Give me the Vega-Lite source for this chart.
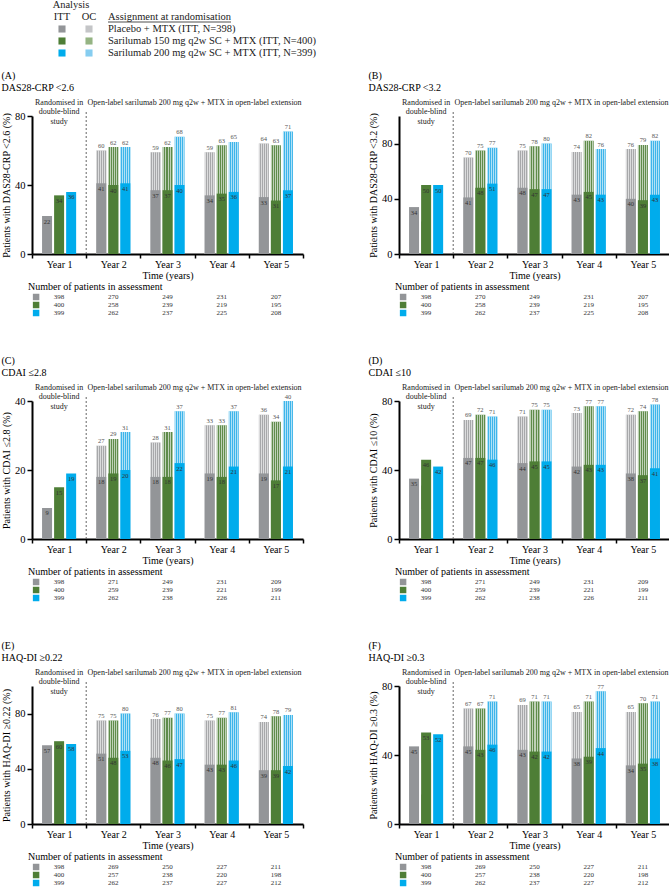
{
  "$schema": "https://vega.github.io/schema/vega-lite/v6.json",
  "background": "white",
  "padding": {"left": 1, "top": 0, "right": 0, "bottom": 0},
  "columns": 2,
  "bounds": "flush",
  "align": "each",
  "spacing": {"row": 39, "column": 96},
  "datasets": {
    "bars": [
      {"p":"A","year":"Year 1","grp":"PBO","itt":22},{"p":"A","year":"Year 1","grp":"S150","itt":34},{"p":"A","year":"Year 1","grp":"S200","itt":36},
      {"p":"A","year":"Year 2","grp":"PBO","itt":41,"oc":60},{"p":"A","year":"Year 2","grp":"S150","itt":40,"oc":62},{"p":"A","year":"Year 2","grp":"S200","itt":41,"oc":62},
      {"p":"A","year":"Year 3","grp":"PBO","itt":37,"oc":59},{"p":"A","year":"Year 3","grp":"S150","itt":37,"oc":62},{"p":"A","year":"Year 3","grp":"S200","itt":40,"oc":68},
      {"p":"A","year":"Year 4","grp":"PBO","itt":34,"oc":59},{"p":"A","year":"Year 4","grp":"S150","itt":35,"oc":63},{"p":"A","year":"Year 4","grp":"S200","itt":36,"oc":65},
      {"p":"A","year":"Year 5","grp":"PBO","itt":33,"oc":64},{"p":"A","year":"Year 5","grp":"S150","itt":31,"oc":63},{"p":"A","year":"Year 5","grp":"S200","itt":37,"oc":71},
      {"p":"B","year":"Year 1","grp":"PBO","itt":34},{"p":"B","year":"Year 1","grp":"S150","itt":50},{"p":"B","year":"Year 1","grp":"S200","itt":50},
      {"p":"B","year":"Year 2","grp":"PBO","itt":41,"oc":70},{"p":"B","year":"Year 2","grp":"S150","itt":48,"oc":75},{"p":"B","year":"Year 2","grp":"S200","itt":51,"oc":77},
      {"p":"B","year":"Year 3","grp":"PBO","itt":48,"oc":75},{"p":"B","year":"Year 3","grp":"S150","itt":47,"oc":78},{"p":"B","year":"Year 3","grp":"S200","itt":47,"oc":80},
      {"p":"B","year":"Year 4","grp":"PBO","itt":43,"oc":74},{"p":"B","year":"Year 4","grp":"S150","itt":45,"oc":82},{"p":"B","year":"Year 4","grp":"S200","itt":43,"oc":76},
      {"p":"B","year":"Year 5","grp":"PBO","itt":40,"oc":76},{"p":"B","year":"Year 5","grp":"S150","itt":39,"oc":79},{"p":"B","year":"Year 5","grp":"S200","itt":43,"oc":82},
      {"p":"C","year":"Year 1","grp":"PBO","itt":9},{"p":"C","year":"Year 1","grp":"S150","itt":15},{"p":"C","year":"Year 1","grp":"S200","itt":19},
      {"p":"C","year":"Year 2","grp":"PBO","itt":18,"oc":27},{"p":"C","year":"Year 2","grp":"S150","itt":19,"oc":29},{"p":"C","year":"Year 2","grp":"S200","itt":20,"oc":31},
      {"p":"C","year":"Year 3","grp":"PBO","itt":18,"oc":28},{"p":"C","year":"Year 3","grp":"S150","itt":18,"oc":31},{"p":"C","year":"Year 3","grp":"S200","itt":22,"oc":37},
      {"p":"C","year":"Year 4","grp":"PBO","itt":19,"oc":33},{"p":"C","year":"Year 4","grp":"S150","itt":18,"oc":33},{"p":"C","year":"Year 4","grp":"S200","itt":21,"oc":37},
      {"p":"C","year":"Year 5","grp":"PBO","itt":19,"oc":36},{"p":"C","year":"Year 5","grp":"S150","itt":17,"oc":34},{"p":"C","year":"Year 5","grp":"S200","itt":21,"oc":40},
      {"p":"D","year":"Year 1","grp":"PBO","itt":35},{"p":"D","year":"Year 1","grp":"S150","itt":46},{"p":"D","year":"Year 1","grp":"S200","itt":42},
      {"p":"D","year":"Year 2","grp":"PBO","itt":47,"oc":69},{"p":"D","year":"Year 2","grp":"S150","itt":47,"oc":72},{"p":"D","year":"Year 2","grp":"S200","itt":46,"oc":71},
      {"p":"D","year":"Year 3","grp":"PBO","itt":44,"oc":71},{"p":"D","year":"Year 3","grp":"S150","itt":45,"oc":75},{"p":"D","year":"Year 3","grp":"S200","itt":45,"oc":75},
      {"p":"D","year":"Year 4","grp":"PBO","itt":42,"oc":73},{"p":"D","year":"Year 4","grp":"S150","itt":43,"oc":77},{"p":"D","year":"Year 4","grp":"S200","itt":43,"oc":77},
      {"p":"D","year":"Year 5","grp":"PBO","itt":38,"oc":72},{"p":"D","year":"Year 5","grp":"S150","itt":37,"oc":74},{"p":"D","year":"Year 5","grp":"S200","itt":41,"oc":78},
      {"p":"E","year":"Year 1","grp":"PBO","itt":57},{"p":"E","year":"Year 1","grp":"S150","itt":60},{"p":"E","year":"Year 1","grp":"S200","itt":58},
      {"p":"E","year":"Year 2","grp":"PBO","itt":51,"oc":75},{"p":"E","year":"Year 2","grp":"S150","itt":48,"oc":75},{"p":"E","year":"Year 2","grp":"S200","itt":53,"oc":80},
      {"p":"E","year":"Year 3","grp":"PBO","itt":48,"oc":76},{"p":"E","year":"Year 3","grp":"S150","itt":46,"oc":77},{"p":"E","year":"Year 3","grp":"S200","itt":47,"oc":80},
      {"p":"E","year":"Year 4","grp":"PBO","itt":43,"oc":75},{"p":"E","year":"Year 4","grp":"S150","itt":43,"oc":77},{"p":"E","year":"Year 4","grp":"S200","itt":46,"oc":81},
      {"p":"E","year":"Year 5","grp":"PBO","itt":39,"oc":74},{"p":"E","year":"Year 5","grp":"S150","itt":39,"oc":78},{"p":"E","year":"Year 5","grp":"S200","itt":42,"oc":79},
      {"p":"F","year":"Year 1","grp":"PBO","itt":45},{"p":"F","year":"Year 1","grp":"S150","itt":53},{"p":"F","year":"Year 1","grp":"S200","itt":52},
      {"p":"F","year":"Year 2","grp":"PBO","itt":45,"oc":67},{"p":"F","year":"Year 2","grp":"S150","itt":43,"oc":67},{"p":"F","year":"Year 2","grp":"S200","itt":46,"oc":71},
      {"p":"F","year":"Year 3","grp":"PBO","itt":43,"oc":69},{"p":"F","year":"Year 3","grp":"S150","itt":42,"oc":71},{"p":"F","year":"Year 3","grp":"S200","itt":42,"oc":71},
      {"p":"F","year":"Year 4","grp":"PBO","itt":38,"oc":65},{"p":"F","year":"Year 4","grp":"S150","itt":39,"oc":71},{"p":"F","year":"Year 4","grp":"S200","itt":44,"oc":77},
      {"p":"F","year":"Year 5","grp":"PBO","itt":34,"oc":65},{"p":"F","year":"Year 5","grp":"S150","itt":35,"oc":70},{"p":"F","year":"Year 5","grp":"S200","itt":38,"oc":71}
    ],
    "n": [
      {"t":"AB","year":"Year 1","grp":"PBO","n":398},{"t":"AB","year":"Year 2","grp":"PBO","n":270},{"t":"AB","year":"Year 3","grp":"PBO","n":249},{"t":"AB","year":"Year 4","grp":"PBO","n":231},{"t":"AB","year":"Year 5","grp":"PBO","n":207},
      {"t":"AB","year":"Year 1","grp":"S150","n":400},{"t":"AB","year":"Year 2","grp":"S150","n":258},{"t":"AB","year":"Year 3","grp":"S150","n":239},{"t":"AB","year":"Year 4","grp":"S150","n":219},{"t":"AB","year":"Year 5","grp":"S150","n":195},
      {"t":"AB","year":"Year 1","grp":"S200","n":399},{"t":"AB","year":"Year 2","grp":"S200","n":262},{"t":"AB","year":"Year 3","grp":"S200","n":237},{"t":"AB","year":"Year 4","grp":"S200","n":225},{"t":"AB","year":"Year 5","grp":"S200","n":208},
      {"t":"CD","year":"Year 1","grp":"PBO","n":398},{"t":"CD","year":"Year 2","grp":"PBO","n":271},{"t":"CD","year":"Year 3","grp":"PBO","n":249},{"t":"CD","year":"Year 4","grp":"PBO","n":231},{"t":"CD","year":"Year 5","grp":"PBO","n":209},
      {"t":"CD","year":"Year 1","grp":"S150","n":400},{"t":"CD","year":"Year 2","grp":"S150","n":259},{"t":"CD","year":"Year 3","grp":"S150","n":239},{"t":"CD","year":"Year 4","grp":"S150","n":221},{"t":"CD","year":"Year 5","grp":"S150","n":199},
      {"t":"CD","year":"Year 1","grp":"S200","n":399},{"t":"CD","year":"Year 2","grp":"S200","n":262},{"t":"CD","year":"Year 3","grp":"S200","n":238},{"t":"CD","year":"Year 4","grp":"S200","n":226},{"t":"CD","year":"Year 5","grp":"S200","n":211},
      {"t":"EF","year":"Year 1","grp":"PBO","n":398},{"t":"EF","year":"Year 2","grp":"PBO","n":269},{"t":"EF","year":"Year 3","grp":"PBO","n":250},{"t":"EF","year":"Year 4","grp":"PBO","n":227},{"t":"EF","year":"Year 5","grp":"PBO","n":211},
      {"t":"EF","year":"Year 1","grp":"S150","n":400},{"t":"EF","year":"Year 2","grp":"S150","n":257},{"t":"EF","year":"Year 3","grp":"S150","n":238},{"t":"EF","year":"Year 4","grp":"S150","n":220},{"t":"EF","year":"Year 5","grp":"S150","n":198},
      {"t":"EF","year":"Year 1","grp":"S200","n":399},{"t":"EF","year":"Year 2","grp":"S200","n":262},{"t":"EF","year":"Year 3","grp":"S200","n":237},{"t":"EF","year":"Year 4","grp":"S200","n":227},{"t":"EF","year":"Year 5","grp":"S200","n":212}
    ],
    "legsq": [
      {"row":"PBO","col":"ITT","key":"PBO ITT"},{"row":"PBO","col":"OC","key":"PBO OC"},
      {"row":"S150","col":"ITT","key":"S150 ITT"},{"row":"S150","col":"OC","key":"S150 OC"},
      {"row":"S200","col":"ITT","key":"S200 ITT"},{"row":"S200","col":"OC","key":"S200 OC"}
    ],
    "leglab": [
      {"row":"PBO","label":"Placebo + MTX (ITT, N=398)"},
      {"row":"S150","label":"Sarilumab 150 mg q2w SC + MTX (ITT, N=400)"},
      {"row":"S200","label":"Sarilumab 200 mg q2w SC + MTX (ITT, N=399)"}
    ]
  },
  "concat": [
    {
      "width": 271, "height": 72,
      "layer": [
        {"data": {"name": "legsq"}, "mark": {"type": "square", "size": 50, "opacity": 1},
         "encoding": {
           "x": {"field": "col", "type": "nominal", "scale": {"type": "point", "domain": ["ITT","OC","label"], "range": [30, 84], "padding": 0}, "axis": null},
           "y": {"field": "row", "type": "nominal", "scale": {"type": "point", "domain": ["Analysis","header","PBO","S150","S200"], "range": [0, 48], "padding": 0}, "axis": null},
           "color": {"field": "key", "type": "nominal", "scale": {"domain": ["PBO ITT","S150 ITT","S200 ITT","PBO OC","S150 OC","S200 OC"], "range": ["#939598","#4e7e36","#00acec","#c4c5c7","#95b483","#86cdf0"]}, "legend": null}}},
        {"data": {"name": "leglab"}, "mark": {"type": "text", "align": "left", "dx": -8, "fontSize": 10.5, "color": "#222"},
         "encoding": {"x": {"datum": "label", "type": "nominal"}, "y": {"field": "row", "type": "nominal"}, "text": {"field": "label"}}},
        {"data": {"values": [{}]}, "mark": {"type": "text", "text": "ITT", "fontSize": 10.5, "color": "#222"},
         "encoding": {"x": {"datum": "ITT", "type": "nominal"}, "y": {"datum": "header", "type": "nominal"}}},
        {"data": {"values": [{}]}, "mark": {"type": "text", "text": "OC", "fontSize": 10.5, "color": "#222"},
         "encoding": {"x": {"datum": "OC", "type": "nominal"}, "y": {"datum": "header", "type": "nominal"}}},
        {"data": {"values": [{}]}, "mark": {"type": "text", "text": "Analysis", "fontSize": 10.5, "dx": 9, "color": "#222"},
         "encoding": {"x": {"datum": "ITT", "type": "nominal"}, "y": {"datum": "Analysis", "type": "nominal"}}},
        {"data": {"values": [{}]}, "mark": {"type": "text", "text": "Assignment at randomisation", "align": "left", "dx": -8, "fontSize": 10.5, "color": "#222"},
         "encoding": {"x": {"datum": "label", "type": "nominal"}, "y": {"datum": "header", "type": "nominal"}}},
        {"data": {"values": [{}]}, "mark": {"type": "rule", "color": "#222", "strokeWidth": 0.8, "xOffset": -8, "x2Offset": 115, "yOffset": 5},
         "encoding": {"x": {"datum": "label", "type": "nominal"}, "x2": {"datum": "label"}, "y": {"datum": "header", "type": "nominal"}}}
      ]
    },
    {"width": 271, "height": 72, "data": {"values": []}, "mark": "point"},

    {
      "width": 271, "height": 138,
      "title": {"text": ["(A)", "DAS28-CRP <2.6"]},
      "layer": [
        {
          "data": {"name": "bars"},
          "transform": [{"filter": "datum.p == 'A'"}],
          "encoding": {
            "x": {"field": "year", "type": "nominal", "scale": {"domain": ["Year 1","Year 2","Year 3","Year 4","Year 5"], "paddingInner": 0, "paddingOuter": 0}, "title": "Time (years)"},
            "xOffset": {"field": "grp", "type": "nominal", "scale": {"domain": ["PBO","S150","S200"], "paddingInner": 0.17, "paddingOuter": 0.835}}
          },
          "layer": [
            {"transform": [{"filter": "isValid(datum.oc)"}], "mark": {"type": "bar"},
             "encoding": {"y": {"field": "oc", "type": "quantitative", "scale": {"domain": [0, 80]}, "axis": {"values": [0,10,20,30,40,50,60,70,80]}, "title": "Patients with DAS28-CRP <2.6 (%)"},
               "color": {"field": "grp", "type": "nominal", "scale": {"domain": ["PBO","S150","S200"], "range": ["#a7a8aa","#5f8c4a","#3db5ea"]}, "legend": null}}},
            {"transform": [{"filter": "isValid(datum.oc)"}], "mark": {"type": "bar", "fill": {"gradient": "linear", "x1": 0, "y1": 0, "x2": 1, "y2": 0, "stops": [{"offset": 0, "color": "rgba(255,255,255,0.6)"}, {"offset": 0.1, "color": "rgba(255,255,255,0.6)"}, {"offset": 0.1, "color": "rgba(255,255,255,0)"}, {"offset": 0.2, "color": "rgba(255,255,255,0)"}, {"offset": 0.2, "color": "rgba(255,255,255,0.6)"}, {"offset": 0.3, "color": "rgba(255,255,255,0.6)"}, {"offset": 0.3, "color": "rgba(255,255,255,0)"}, {"offset": 0.4, "color": "rgba(255,255,255,0)"}, {"offset": 0.4, "color": "rgba(255,255,255,0.6)"}, {"offset": 0.5, "color": "rgba(255,255,255,0.6)"}, {"offset": 0.5, "color": "rgba(255,255,255,0)"}, {"offset": 0.6, "color": "rgba(255,255,255,0)"}, {"offset": 0.6, "color": "rgba(255,255,255,0.6)"}, {"offset": 0.7, "color": "rgba(255,255,255,0.6)"}, {"offset": 0.7, "color": "rgba(255,255,255,0)"}, {"offset": 0.8, "color": "rgba(255,255,255,0)"}, {"offset": 0.8, "color": "rgba(255,255,255,0.6)"}, {"offset": 0.9, "color": "rgba(255,255,255,0.6)"}, {"offset": 0.9, "color": "rgba(255,255,255,0)"}, {"offset": 1, "color": "rgba(255,255,255,0)"}]}},
             "encoding": {"y": {"field": "oc", "type": "quantitative", "scale": {"domain": [0, 80]}, "axis": {"values": [0,10,20,30,40,50,60,70,80]}, "title": "Patients with DAS28-CRP <2.6 (%)"}}},
            {"mark": {"type": "bar"},
             "encoding": {"y": {"field": "itt", "type": "quantitative", "scale": {"domain": [0, 80]}, "axis": {"values": [0,10,20,30,40,50,60,70,80]}, "title": "Patients with DAS28-CRP <2.6 (%)"},
               "color": {"field": "grp", "type": "nominal", "scale": {"domain": ["PBO","S150","S200"], "range": ["#939598","#4e7e36","#00acec"]}, "legend": null}}},
            {"transform": [{"filter": "isValid(datum.oc)"}], "mark": {"type": "text", "dy": -4.5, "fontSize": 6.5, "color": "#555"},
             "encoding": {"y": {"field": "oc", "type": "quantitative", "scale": {"domain": [0, 80]}, "axis": {"values": [0,10,20,30,40,50,60,70,80]}, "title": "Patients with DAS28-CRP <2.6 (%)"}, "text": {"field": "oc"}}},
            {"mark": {"type": "text", "dy": 5.5, "fontSize": 6.5, "color": "#333"},
             "encoding": {"y": {"field": "itt", "type": "quantitative", "scale": {"domain": [0, 80]}, "axis": {"values": [0,10,20,30,40,50,60,70,80]}, "title": "Patients with DAS28-CRP <2.6 (%)"}, "text": {"field": "itt"}}}
          ],
          "resolve": {"scale": {"color": "independent"}}
        },
        {"data": {"values": [{}]}, "mark": {"type": "rule", "strokeDash": [2, 2], "color": "#666", "strokeWidth": 1},
         "encoding": {"x": {"datum": "Year 2", "type": "nominal", "bandPosition": 0}, "y": {"datum": 0, "type": "quantitative"}, "y2": {"datum": 82.4}}},
        {"data": {"values": [{}]}, "mark": {"type": "text", "text": ["Randomised in", "double-blind", "study"], "baseline": "top", "dy": -17.5, "lineHeight": 9.7, "fontSize": 8, "color": "#222"},
         "encoding": {"x": {"datum": "Year 1", "type": "nominal"}, "y": {"datum": 80, "type": "quantitative"}}},
        {"data": {"values": [{}]}, "mark": {"type": "text", "text": "Open-label sarilumab 200 mg q2w + MTX in open-label extension", "baseline": "top", "dy": -17.5, "fontSize": 8, "color": "#222"},
         "encoding": {"x": {"datum": "Year 4", "type": "nominal", "bandPosition": 0}, "y": {"datum": 80, "type": "quantitative"}}}
      ]
    },
    {
      "width": 271, "height": 138,
      "title": {"text": ["(B)", "DAS28-CRP <3.2"]},
      "layer": [
        {
          "data": {"name": "bars"},
          "transform": [{"filter": "datum.p == 'B'"}],
          "encoding": {
            "x": {"field": "year", "type": "nominal", "scale": {"domain": ["Year 1","Year 2","Year 3","Year 4","Year 5"], "paddingInner": 0, "paddingOuter": 0}, "title": "Time (years)"},
            "xOffset": {"field": "grp", "type": "nominal", "scale": {"domain": ["PBO","S150","S200"], "paddingInner": 0.17, "paddingOuter": 0.835}}
          },
          "layer": [
            {"transform": [{"filter": "isValid(datum.oc)"}], "mark": {"type": "bar"},
             "encoding": {"y": {"field": "oc", "type": "quantitative", "scale": {"domain": [0, 100]}, "axis": {"values": [0,20,40,60,80,100]}, "title": "Patients with DAS28-CRP <3.2 (%)"},
               "color": {"field": "grp", "type": "nominal", "scale": {"domain": ["PBO","S150","S200"], "range": ["#a7a8aa","#5f8c4a","#3db5ea"]}, "legend": null}}},
            {"transform": [{"filter": "isValid(datum.oc)"}], "mark": {"type": "bar", "fill": {"gradient": "linear", "x1": 0, "y1": 0, "x2": 1, "y2": 0, "stops": [{"offset": 0, "color": "rgba(255,255,255,0.6)"}, {"offset": 0.1, "color": "rgba(255,255,255,0.6)"}, {"offset": 0.1, "color": "rgba(255,255,255,0)"}, {"offset": 0.2, "color": "rgba(255,255,255,0)"}, {"offset": 0.2, "color": "rgba(255,255,255,0.6)"}, {"offset": 0.3, "color": "rgba(255,255,255,0.6)"}, {"offset": 0.3, "color": "rgba(255,255,255,0)"}, {"offset": 0.4, "color": "rgba(255,255,255,0)"}, {"offset": 0.4, "color": "rgba(255,255,255,0.6)"}, {"offset": 0.5, "color": "rgba(255,255,255,0.6)"}, {"offset": 0.5, "color": "rgba(255,255,255,0)"}, {"offset": 0.6, "color": "rgba(255,255,255,0)"}, {"offset": 0.6, "color": "rgba(255,255,255,0.6)"}, {"offset": 0.7, "color": "rgba(255,255,255,0.6)"}, {"offset": 0.7, "color": "rgba(255,255,255,0)"}, {"offset": 0.8, "color": "rgba(255,255,255,0)"}, {"offset": 0.8, "color": "rgba(255,255,255,0.6)"}, {"offset": 0.9, "color": "rgba(255,255,255,0.6)"}, {"offset": 0.9, "color": "rgba(255,255,255,0)"}, {"offset": 1, "color": "rgba(255,255,255,0)"}]}},
             "encoding": {"y": {"field": "oc", "type": "quantitative", "scale": {"domain": [0, 100]}, "axis": {"values": [0,20,40,60,80,100]}, "title": "Patients with DAS28-CRP <3.2 (%)"}}},
            {"mark": {"type": "bar"},
             "encoding": {"y": {"field": "itt", "type": "quantitative", "scale": {"domain": [0, 100]}, "axis": {"values": [0,20,40,60,80,100]}, "title": "Patients with DAS28-CRP <3.2 (%)"},
               "color": {"field": "grp", "type": "nominal", "scale": {"domain": ["PBO","S150","S200"], "range": ["#939598","#4e7e36","#00acec"]}, "legend": null}}},
            {"transform": [{"filter": "isValid(datum.oc)"}], "mark": {"type": "text", "dy": -4.5, "fontSize": 6.5, "color": "#555"},
             "encoding": {"y": {"field": "oc", "type": "quantitative", "scale": {"domain": [0, 100]}, "axis": {"values": [0,20,40,60,80,100]}, "title": "Patients with DAS28-CRP <3.2 (%)"}, "text": {"field": "oc"}}},
            {"mark": {"type": "text", "dy": 5.5, "fontSize": 6.5, "color": "#333"},
             "encoding": {"y": {"field": "itt", "type": "quantitative", "scale": {"domain": [0, 100]}, "axis": {"values": [0,20,40,60,80,100]}, "title": "Patients with DAS28-CRP <3.2 (%)"}, "text": {"field": "itt"}}}
          ],
          "resolve": {"scale": {"color": "independent"}}
        },
        {"data": {"values": [{}]}, "mark": {"type": "rule", "strokeDash": [2, 2], "color": "#666", "strokeWidth": 1},
         "encoding": {"x": {"datum": "Year 2", "type": "nominal", "bandPosition": 0}, "y": {"datum": 0, "type": "quantitative"}, "y2": {"datum": 103}}},
        {"data": {"values": [{}]}, "mark": {"type": "text", "text": ["Randomised in", "double-blind", "study"], "baseline": "top", "dy": -17.5, "lineHeight": 9.7, "fontSize": 8, "color": "#222"},
         "encoding": {"x": {"datum": "Year 1", "type": "nominal"}, "y": {"datum": 100, "type": "quantitative"}}},
        {"data": {"values": [{}]}, "mark": {"type": "text", "text": "Open-label sarilumab 200 mg q2w + MTX in open-label extension", "baseline": "top", "dy": -17.5, "fontSize": 8, "color": "#222"},
         "encoding": {"x": {"datum": "Year 4", "type": "nominal", "bandPosition": 0}, "y": {"datum": 100, "type": "quantitative"}}}
      ]
    },
    {
      "width": 271, "height": 69,
      "title": {"text": "Number of patients in assessment", "frame": "group", "dx": -4, "offset": 1},
      "data": {"name": "n"},
      "transform": [{"filter": "datum.t == 'AB'"}],
      "encoding": {"y": {"field": "grp", "type": "nominal", "scale": {"type": "point", "domain": ["PBO","S150","S200"], "range": [0, 24], "padding": 0.5}, "axis": null}},
      "layer": [
        {"mark": {"type": "text", "fontSize": 7, "color": "#333"},
         "encoding": {"x": {"field": "year", "type": "nominal", "scale": {"domain": ["Year 1","Year 2","Year 3","Year 4","Year 5"], "paddingInner": 0, "paddingOuter": 0}, "axis": null}, "text": {"field": "n"}}},
        {"transform": [{"filter": "datum.year == 'Year 1'"}], "mark": {"type": "square", "size": 42, "opacity": 1, "xOffset": -23},
         "encoding": {"x": {"field": "year", "type": "nominal"}, "color": {"field": "grp", "type": "nominal", "scale": {"domain": ["PBO","S150","S200"], "range": ["#c4c5c7","#95b483","#86cdf0"]}, "legend": null}}}
      ]
    },
    {
      "width": 271, "height": 69,
      "title": {"text": "Number of patients in assessment", "frame": "group", "dx": -4, "offset": 1},
      "data": {"name": "n"},
      "transform": [{"filter": "datum.t == 'AB'"}],
      "encoding": {"y": {"field": "grp", "type": "nominal", "scale": {"type": "point", "domain": ["PBO","S150","S200"], "range": [0, 24], "padding": 0.5}, "axis": null}},
      "layer": [
        {"mark": {"type": "text", "fontSize": 7, "color": "#333"},
         "encoding": {"x": {"field": "year", "type": "nominal", "scale": {"domain": ["Year 1","Year 2","Year 3","Year 4","Year 5"], "paddingInner": 0, "paddingOuter": 0}, "axis": null}, "text": {"field": "n"}}},
        {"transform": [{"filter": "datum.year == 'Year 1'"}], "mark": {"type": "square", "size": 42, "opacity": 1, "xOffset": -23},
         "encoding": {"x": {"field": "year", "type": "nominal"}, "color": {"field": "grp", "type": "nominal", "scale": {"domain": ["PBO","S150","S200"], "range": ["#c4c5c7","#95b483","#86cdf0"]}, "legend": null}}}
      ]
    },

    {
      "width": 271, "height": 138,
      "title": {"text": ["(C)", "CDAI ≤2.8"]},
      "layer": [
        {
          "data": {"name": "bars"},
          "transform": [{"filter": "datum.p == 'C'"}],
          "encoding": {
            "x": {"field": "year", "type": "nominal", "scale": {"domain": ["Year 1","Year 2","Year 3","Year 4","Year 5"], "paddingInner": 0, "paddingOuter": 0}, "title": "Time (years)"},
            "xOffset": {"field": "grp", "type": "nominal", "scale": {"domain": ["PBO","S150","S200"], "paddingInner": 0.17, "paddingOuter": 0.835}}
          },
          "layer": [
            {"transform": [{"filter": "isValid(datum.oc)"}], "mark": {"type": "bar"},
             "encoding": {"y": {"field": "oc", "type": "quantitative", "scale": {"domain": [0, 40]}, "axis": {"values": [0,10,20,30,40]}, "title": "Patients with CDAI ≤2.8 (%)"},
               "color": {"field": "grp", "type": "nominal", "scale": {"domain": ["PBO","S150","S200"], "range": ["#a7a8aa","#5f8c4a","#3db5ea"]}, "legend": null}}},
            {"transform": [{"filter": "isValid(datum.oc)"}], "mark": {"type": "bar", "fill": {"gradient": "linear", "x1": 0, "y1": 0, "x2": 1, "y2": 0, "stops": [{"offset": 0, "color": "rgba(255,255,255,0.6)"}, {"offset": 0.1, "color": "rgba(255,255,255,0.6)"}, {"offset": 0.1, "color": "rgba(255,255,255,0)"}, {"offset": 0.2, "color": "rgba(255,255,255,0)"}, {"offset": 0.2, "color": "rgba(255,255,255,0.6)"}, {"offset": 0.3, "color": "rgba(255,255,255,0.6)"}, {"offset": 0.3, "color": "rgba(255,255,255,0)"}, {"offset": 0.4, "color": "rgba(255,255,255,0)"}, {"offset": 0.4, "color": "rgba(255,255,255,0.6)"}, {"offset": 0.5, "color": "rgba(255,255,255,0.6)"}, {"offset": 0.5, "color": "rgba(255,255,255,0)"}, {"offset": 0.6, "color": "rgba(255,255,255,0)"}, {"offset": 0.6, "color": "rgba(255,255,255,0.6)"}, {"offset": 0.7, "color": "rgba(255,255,255,0.6)"}, {"offset": 0.7, "color": "rgba(255,255,255,0)"}, {"offset": 0.8, "color": "rgba(255,255,255,0)"}, {"offset": 0.8, "color": "rgba(255,255,255,0.6)"}, {"offset": 0.9, "color": "rgba(255,255,255,0.6)"}, {"offset": 0.9, "color": "rgba(255,255,255,0)"}, {"offset": 1, "color": "rgba(255,255,255,0)"}]}},
             "encoding": {"y": {"field": "oc", "type": "quantitative", "scale": {"domain": [0, 40]}, "axis": {"values": [0,10,20,30,40]}, "title": "Patients with CDAI ≤2.8 (%)"}}},
            {"mark": {"type": "bar"},
             "encoding": {"y": {"field": "itt", "type": "quantitative", "scale": {"domain": [0, 40]}, "axis": {"values": [0,10,20,30,40]}, "title": "Patients with CDAI ≤2.8 (%)"},
               "color": {"field": "grp", "type": "nominal", "scale": {"domain": ["PBO","S150","S200"], "range": ["#939598","#4e7e36","#00acec"]}, "legend": null}}},
            {"transform": [{"filter": "isValid(datum.oc)"}], "mark": {"type": "text", "dy": -4.5, "fontSize": 6.5, "color": "#555"},
             "encoding": {"y": {"field": "oc", "type": "quantitative", "scale": {"domain": [0, 40]}, "axis": {"values": [0,10,20,30,40]}, "title": "Patients with CDAI ≤2.8 (%)"}, "text": {"field": "oc"}}},
            {"mark": {"type": "text", "dy": 5.5, "fontSize": 6.5, "color": "#333"},
             "encoding": {"y": {"field": "itt", "type": "quantitative", "scale": {"domain": [0, 40]}, "axis": {"values": [0,10,20,30,40]}, "title": "Patients with CDAI ≤2.8 (%)"}, "text": {"field": "itt"}}}
          ],
          "resolve": {"scale": {"color": "independent"}}
        },
        {"data": {"values": [{}]}, "mark": {"type": "rule", "strokeDash": [2, 2], "color": "#666", "strokeWidth": 1},
         "encoding": {"x": {"datum": "Year 2", "type": "nominal", "bandPosition": 0}, "y": {"datum": 0, "type": "quantitative"}, "y2": {"datum": 41.2}}},
        {"data": {"values": [{}]}, "mark": {"type": "text", "text": ["Randomised in", "double-blind", "study"], "baseline": "top", "dy": -17.5, "lineHeight": 9.7, "fontSize": 8, "color": "#222"},
         "encoding": {"x": {"datum": "Year 1", "type": "nominal"}, "y": {"datum": 40, "type": "quantitative"}}},
        {"data": {"values": [{}]}, "mark": {"type": "text", "text": "Open-label sarilumab 200 mg q2w + MTX in open-label extension", "baseline": "top", "dy": -17.5, "fontSize": 8, "color": "#222"},
         "encoding": {"x": {"datum": "Year 4", "type": "nominal", "bandPosition": 0}, "y": {"datum": 40, "type": "quantitative"}}}
      ]
    },
    {
      "width": 271, "height": 138,
      "title": {"text": ["(D)", "CDAI ≤10"]},
      "layer": [
        {
          "data": {"name": "bars"},
          "transform": [{"filter": "datum.p == 'D'"}],
          "encoding": {
            "x": {"field": "year", "type": "nominal", "scale": {"domain": ["Year 1","Year 2","Year 3","Year 4","Year 5"], "paddingInner": 0, "paddingOuter": 0}, "title": "Time (years)"},
            "xOffset": {"field": "grp", "type": "nominal", "scale": {"domain": ["PBO","S150","S200"], "paddingInner": 0.17, "paddingOuter": 0.835}}
          },
          "layer": [
            {"transform": [{"filter": "isValid(datum.oc)"}], "mark": {"type": "bar"},
             "encoding": {"y": {"field": "oc", "type": "quantitative", "scale": {"domain": [0, 80]}, "axis": {"values": [0,20,40,60,80]}, "title": "Patients with CDAI ≤10 (%)"},
               "color": {"field": "grp", "type": "nominal", "scale": {"domain": ["PBO","S150","S200"], "range": ["#a7a8aa","#5f8c4a","#3db5ea"]}, "legend": null}}},
            {"transform": [{"filter": "isValid(datum.oc)"}], "mark": {"type": "bar", "fill": {"gradient": "linear", "x1": 0, "y1": 0, "x2": 1, "y2": 0, "stops": [{"offset": 0, "color": "rgba(255,255,255,0.6)"}, {"offset": 0.1, "color": "rgba(255,255,255,0.6)"}, {"offset": 0.1, "color": "rgba(255,255,255,0)"}, {"offset": 0.2, "color": "rgba(255,255,255,0)"}, {"offset": 0.2, "color": "rgba(255,255,255,0.6)"}, {"offset": 0.3, "color": "rgba(255,255,255,0.6)"}, {"offset": 0.3, "color": "rgba(255,255,255,0)"}, {"offset": 0.4, "color": "rgba(255,255,255,0)"}, {"offset": 0.4, "color": "rgba(255,255,255,0.6)"}, {"offset": 0.5, "color": "rgba(255,255,255,0.6)"}, {"offset": 0.5, "color": "rgba(255,255,255,0)"}, {"offset": 0.6, "color": "rgba(255,255,255,0)"}, {"offset": 0.6, "color": "rgba(255,255,255,0.6)"}, {"offset": 0.7, "color": "rgba(255,255,255,0.6)"}, {"offset": 0.7, "color": "rgba(255,255,255,0)"}, {"offset": 0.8, "color": "rgba(255,255,255,0)"}, {"offset": 0.8, "color": "rgba(255,255,255,0.6)"}, {"offset": 0.9, "color": "rgba(255,255,255,0.6)"}, {"offset": 0.9, "color": "rgba(255,255,255,0)"}, {"offset": 1, "color": "rgba(255,255,255,0)"}]}},
             "encoding": {"y": {"field": "oc", "type": "quantitative", "scale": {"domain": [0, 80]}, "axis": {"values": [0,20,40,60,80]}, "title": "Patients with CDAI ≤10 (%)"}}},
            {"mark": {"type": "bar"},
             "encoding": {"y": {"field": "itt", "type": "quantitative", "scale": {"domain": [0, 80]}, "axis": {"values": [0,20,40,60,80]}, "title": "Patients with CDAI ≤10 (%)"},
               "color": {"field": "grp", "type": "nominal", "scale": {"domain": ["PBO","S150","S200"], "range": ["#939598","#4e7e36","#00acec"]}, "legend": null}}},
            {"transform": [{"filter": "isValid(datum.oc)"}], "mark": {"type": "text", "dy": -4.5, "fontSize": 6.5, "color": "#555"},
             "encoding": {"y": {"field": "oc", "type": "quantitative", "scale": {"domain": [0, 80]}, "axis": {"values": [0,20,40,60,80]}, "title": "Patients with CDAI ≤10 (%)"}, "text": {"field": "oc"}}},
            {"mark": {"type": "text", "dy": 5.5, "fontSize": 6.5, "color": "#333"},
             "encoding": {"y": {"field": "itt", "type": "quantitative", "scale": {"domain": [0, 80]}, "axis": {"values": [0,20,40,60,80]}, "title": "Patients with CDAI ≤10 (%)"}, "text": {"field": "itt"}}}
          ],
          "resolve": {"scale": {"color": "independent"}}
        },
        {"data": {"values": [{}]}, "mark": {"type": "rule", "strokeDash": [2, 2], "color": "#666", "strokeWidth": 1},
         "encoding": {"x": {"datum": "Year 2", "type": "nominal", "bandPosition": 0}, "y": {"datum": 0, "type": "quantitative"}, "y2": {"datum": 82.4}}},
        {"data": {"values": [{}]}, "mark": {"type": "text", "text": ["Randomised in", "double-blind", "study"], "baseline": "top", "dy": -17.5, "lineHeight": 9.7, "fontSize": 8, "color": "#222"},
         "encoding": {"x": {"datum": "Year 1", "type": "nominal"}, "y": {"datum": 80, "type": "quantitative"}}},
        {"data": {"values": [{}]}, "mark": {"type": "text", "text": "Open-label sarilumab 200 mg q2w + MTX in open-label extension", "baseline": "top", "dy": -17.5, "fontSize": 8, "color": "#222"},
         "encoding": {"x": {"datum": "Year 4", "type": "nominal", "bandPosition": 0}, "y": {"datum": 80, "type": "quantitative"}}}
      ]
    },
    {
      "width": 271, "height": 69,
      "title": {"text": "Number of patients in assessment", "frame": "group", "dx": -4, "offset": 1},
      "data": {"name": "n"},
      "transform": [{"filter": "datum.t == 'CD'"}],
      "encoding": {"y": {"field": "grp", "type": "nominal", "scale": {"type": "point", "domain": ["PBO","S150","S200"], "range": [0, 24], "padding": 0.5}, "axis": null}},
      "layer": [
        {"mark": {"type": "text", "fontSize": 7, "color": "#333"},
         "encoding": {"x": {"field": "year", "type": "nominal", "scale": {"domain": ["Year 1","Year 2","Year 3","Year 4","Year 5"], "paddingInner": 0, "paddingOuter": 0}, "axis": null}, "text": {"field": "n"}}},
        {"transform": [{"filter": "datum.year == 'Year 1'"}], "mark": {"type": "square", "size": 42, "opacity": 1, "xOffset": -23},
         "encoding": {"x": {"field": "year", "type": "nominal"}, "color": {"field": "grp", "type": "nominal", "scale": {"domain": ["PBO","S150","S200"], "range": ["#c4c5c7","#95b483","#86cdf0"]}, "legend": null}}}
      ]
    },
    {
      "width": 271, "height": 69,
      "title": {"text": "Number of patients in assessment", "frame": "group", "dx": -4, "offset": 1},
      "data": {"name": "n"},
      "transform": [{"filter": "datum.t == 'CD'"}],
      "encoding": {"y": {"field": "grp", "type": "nominal", "scale": {"type": "point", "domain": ["PBO","S150","S200"], "range": [0, 24], "padding": 0.5}, "axis": null}},
      "layer": [
        {"mark": {"type": "text", "fontSize": 7, "color": "#333"},
         "encoding": {"x": {"field": "year", "type": "nominal", "scale": {"domain": ["Year 1","Year 2","Year 3","Year 4","Year 5"], "paddingInner": 0, "paddingOuter": 0}, "axis": null}, "text": {"field": "n"}}},
        {"transform": [{"filter": "datum.year == 'Year 1'"}], "mark": {"type": "square", "size": 42, "opacity": 1, "xOffset": -23},
         "encoding": {"x": {"field": "year", "type": "nominal"}, "color": {"field": "grp", "type": "nominal", "scale": {"domain": ["PBO","S150","S200"], "range": ["#c4c5c7","#95b483","#86cdf0"]}, "legend": null}}}
      ]
    },

    {
      "width": 271, "height": 138,
      "title": {"text": ["(E)", "HAQ-DI ≥0.22"]},
      "layer": [
        {
          "data": {"name": "bars"},
          "transform": [{"filter": "datum.p == 'E'"}],
          "encoding": {
            "x": {"field": "year", "type": "nominal", "scale": {"domain": ["Year 1","Year 2","Year 3","Year 4","Year 5"], "paddingInner": 0, "paddingOuter": 0}, "title": "Time (years)"},
            "xOffset": {"field": "grp", "type": "nominal", "scale": {"domain": ["PBO","S150","S200"], "paddingInner": 0.17, "paddingOuter": 0.835}}
          },
          "layer": [
            {"transform": [{"filter": "isValid(datum.oc)"}], "mark": {"type": "bar"},
             "encoding": {"y": {"field": "oc", "type": "quantitative", "scale": {"domain": [0, 100]}, "axis": {"values": [0,20,40,60,80,100]}, "title": "Patients with HAQ-DI ≥0.22 (%)"},
               "color": {"field": "grp", "type": "nominal", "scale": {"domain": ["PBO","S150","S200"], "range": ["#a7a8aa","#5f8c4a","#3db5ea"]}, "legend": null}}},
            {"transform": [{"filter": "isValid(datum.oc)"}], "mark": {"type": "bar", "fill": {"gradient": "linear", "x1": 0, "y1": 0, "x2": 1, "y2": 0, "stops": [{"offset": 0, "color": "rgba(255,255,255,0.6)"}, {"offset": 0.1, "color": "rgba(255,255,255,0.6)"}, {"offset": 0.1, "color": "rgba(255,255,255,0)"}, {"offset": 0.2, "color": "rgba(255,255,255,0)"}, {"offset": 0.2, "color": "rgba(255,255,255,0.6)"}, {"offset": 0.3, "color": "rgba(255,255,255,0.6)"}, {"offset": 0.3, "color": "rgba(255,255,255,0)"}, {"offset": 0.4, "color": "rgba(255,255,255,0)"}, {"offset": 0.4, "color": "rgba(255,255,255,0.6)"}, {"offset": 0.5, "color": "rgba(255,255,255,0.6)"}, {"offset": 0.5, "color": "rgba(255,255,255,0)"}, {"offset": 0.6, "color": "rgba(255,255,255,0)"}, {"offset": 0.6, "color": "rgba(255,255,255,0.6)"}, {"offset": 0.7, "color": "rgba(255,255,255,0.6)"}, {"offset": 0.7, "color": "rgba(255,255,255,0)"}, {"offset": 0.8, "color": "rgba(255,255,255,0)"}, {"offset": 0.8, "color": "rgba(255,255,255,0.6)"}, {"offset": 0.9, "color": "rgba(255,255,255,0.6)"}, {"offset": 0.9, "color": "rgba(255,255,255,0)"}, {"offset": 1, "color": "rgba(255,255,255,0)"}]}},
             "encoding": {"y": {"field": "oc", "type": "quantitative", "scale": {"domain": [0, 100]}, "axis": {"values": [0,20,40,60,80,100]}, "title": "Patients with HAQ-DI ≥0.22 (%)"}}},
            {"mark": {"type": "bar"},
             "encoding": {"y": {"field": "itt", "type": "quantitative", "scale": {"domain": [0, 100]}, "axis": {"values": [0,20,40,60,80,100]}, "title": "Patients with HAQ-DI ≥0.22 (%)"},
               "color": {"field": "grp", "type": "nominal", "scale": {"domain": ["PBO","S150","S200"], "range": ["#939598","#4e7e36","#00acec"]}, "legend": null}}},
            {"transform": [{"filter": "isValid(datum.oc)"}], "mark": {"type": "text", "dy": -4.5, "fontSize": 6.5, "color": "#555"},
             "encoding": {"y": {"field": "oc", "type": "quantitative", "scale": {"domain": [0, 100]}, "axis": {"values": [0,20,40,60,80,100]}, "title": "Patients with HAQ-DI ≥0.22 (%)"}, "text": {"field": "oc"}}},
            {"mark": {"type": "text", "dy": 5.5, "fontSize": 6.5, "color": "#333"},
             "encoding": {"y": {"field": "itt", "type": "quantitative", "scale": {"domain": [0, 100]}, "axis": {"values": [0,20,40,60,80,100]}, "title": "Patients with HAQ-DI ≥0.22 (%)"}, "text": {"field": "itt"}}}
          ],
          "resolve": {"scale": {"color": "independent"}}
        },
        {"data": {"values": [{}]}, "mark": {"type": "rule", "strokeDash": [2, 2], "color": "#666", "strokeWidth": 1},
         "encoding": {"x": {"datum": "Year 2", "type": "nominal", "bandPosition": 0}, "y": {"datum": 0, "type": "quantitative"}, "y2": {"datum": 103}}},
        {"data": {"values": [{}]}, "mark": {"type": "text", "text": ["Randomised in", "double-blind", "study"], "baseline": "top", "dy": -17.5, "lineHeight": 9.7, "fontSize": 8, "color": "#222"},
         "encoding": {"x": {"datum": "Year 1", "type": "nominal"}, "y": {"datum": 100, "type": "quantitative"}}},
        {"data": {"values": [{}]}, "mark": {"type": "text", "text": "Open-label sarilumab 200 mg q2w + MTX in open-label extension", "baseline": "top", "dy": -17.5, "fontSize": 8, "color": "#222"},
         "encoding": {"x": {"datum": "Year 4", "type": "nominal", "bandPosition": 0}, "y": {"datum": 100, "type": "quantitative"}}}
      ]
    },
    {
      "width": 271, "height": 138,
      "title": {"text": ["(F)", "HAQ-DI ≥0.3"]},
      "layer": [
        {
          "data": {"name": "bars"},
          "transform": [{"filter": "datum.p == 'F'"}],
          "encoding": {
            "x": {"field": "year", "type": "nominal", "scale": {"domain": ["Year 1","Year 2","Year 3","Year 4","Year 5"], "paddingInner": 0, "paddingOuter": 0}, "title": "Time (years)"},
            "xOffset": {"field": "grp", "type": "nominal", "scale": {"domain": ["PBO","S150","S200"], "paddingInner": 0.17, "paddingOuter": 0.835}}
          },
          "layer": [
            {"transform": [{"filter": "isValid(datum.oc)"}], "mark": {"type": "bar"},
             "encoding": {"y": {"field": "oc", "type": "quantitative", "scale": {"domain": [0, 80]}, "axis": {"values": [0,20,40,60,80]}, "title": "Patients with HAQ-DI ≥0.3 (%)"},
               "color": {"field": "grp", "type": "nominal", "scale": {"domain": ["PBO","S150","S200"], "range": ["#a7a8aa","#5f8c4a","#3db5ea"]}, "legend": null}}},
            {"transform": [{"filter": "isValid(datum.oc)"}], "mark": {"type": "bar", "fill": {"gradient": "linear", "x1": 0, "y1": 0, "x2": 1, "y2": 0, "stops": [{"offset": 0, "color": "rgba(255,255,255,0.6)"}, {"offset": 0.1, "color": "rgba(255,255,255,0.6)"}, {"offset": 0.1, "color": "rgba(255,255,255,0)"}, {"offset": 0.2, "color": "rgba(255,255,255,0)"}, {"offset": 0.2, "color": "rgba(255,255,255,0.6)"}, {"offset": 0.3, "color": "rgba(255,255,255,0.6)"}, {"offset": 0.3, "color": "rgba(255,255,255,0)"}, {"offset": 0.4, "color": "rgba(255,255,255,0)"}, {"offset": 0.4, "color": "rgba(255,255,255,0.6)"}, {"offset": 0.5, "color": "rgba(255,255,255,0.6)"}, {"offset": 0.5, "color": "rgba(255,255,255,0)"}, {"offset": 0.6, "color": "rgba(255,255,255,0)"}, {"offset": 0.6, "color": "rgba(255,255,255,0.6)"}, {"offset": 0.7, "color": "rgba(255,255,255,0.6)"}, {"offset": 0.7, "color": "rgba(255,255,255,0)"}, {"offset": 0.8, "color": "rgba(255,255,255,0)"}, {"offset": 0.8, "color": "rgba(255,255,255,0.6)"}, {"offset": 0.9, "color": "rgba(255,255,255,0.6)"}, {"offset": 0.9, "color": "rgba(255,255,255,0)"}, {"offset": 1, "color": "rgba(255,255,255,0)"}]}},
             "encoding": {"y": {"field": "oc", "type": "quantitative", "scale": {"domain": [0, 80]}, "axis": {"values": [0,20,40,60,80]}, "title": "Patients with HAQ-DI ≥0.3 (%)"}}},
            {"mark": {"type": "bar"},
             "encoding": {"y": {"field": "itt", "type": "quantitative", "scale": {"domain": [0, 80]}, "axis": {"values": [0,20,40,60,80]}, "title": "Patients with HAQ-DI ≥0.3 (%)"},
               "color": {"field": "grp", "type": "nominal", "scale": {"domain": ["PBO","S150","S200"], "range": ["#939598","#4e7e36","#00acec"]}, "legend": null}}},
            {"transform": [{"filter": "isValid(datum.oc)"}], "mark": {"type": "text", "dy": -4.5, "fontSize": 6.5, "color": "#555"},
             "encoding": {"y": {"field": "oc", "type": "quantitative", "scale": {"domain": [0, 80]}, "axis": {"values": [0,20,40,60,80]}, "title": "Patients with HAQ-DI ≥0.3 (%)"}, "text": {"field": "oc"}}},
            {"mark": {"type": "text", "dy": 5.5, "fontSize": 6.5, "color": "#333"},
             "encoding": {"y": {"field": "itt", "type": "quantitative", "scale": {"domain": [0, 80]}, "axis": {"values": [0,20,40,60,80]}, "title": "Patients with HAQ-DI ≥0.3 (%)"}, "text": {"field": "itt"}}}
          ],
          "resolve": {"scale": {"color": "independent"}}
        },
        {"data": {"values": [{}]}, "mark": {"type": "rule", "strokeDash": [2, 2], "color": "#666", "strokeWidth": 1},
         "encoding": {"x": {"datum": "Year 2", "type": "nominal", "bandPosition": 0}, "y": {"datum": 0, "type": "quantitative"}, "y2": {"datum": 82.4}}},
        {"data": {"values": [{}]}, "mark": {"type": "text", "text": ["Randomised in", "double-blind", "study"], "baseline": "top", "dy": -17.5, "lineHeight": 9.7, "fontSize": 8, "color": "#222"},
         "encoding": {"x": {"datum": "Year 1", "type": "nominal"}, "y": {"datum": 80, "type": "quantitative"}}},
        {"data": {"values": [{}]}, "mark": {"type": "text", "text": "Open-label sarilumab 200 mg q2w + MTX in open-label extension", "baseline": "top", "dy": -17.5, "fontSize": 8, "color": "#222"},
         "encoding": {"x": {"datum": "Year 4", "type": "nominal", "bandPosition": 0}, "y": {"datum": 80, "type": "quantitative"}}}
      ]
    },
    {
      "width": 271, "height": 24,
      "title": {"text": "Number of patients in assessment", "frame": "group", "dx": -4, "offset": 1},
      "data": {"name": "n"},
      "transform": [{"filter": "datum.t == 'EF'"}],
      "encoding": {"y": {"field": "grp", "type": "nominal", "scale": {"type": "point", "domain": ["PBO","S150","S200"], "range": [0, 24], "padding": 0.5}, "axis": null}},
      "layer": [
        {"mark": {"type": "text", "fontSize": 7, "color": "#333"},
         "encoding": {"x": {"field": "year", "type": "nominal", "scale": {"domain": ["Year 1","Year 2","Year 3","Year 4","Year 5"], "paddingInner": 0, "paddingOuter": 0}, "axis": null}, "text": {"field": "n"}}},
        {"transform": [{"filter": "datum.year == 'Year 1'"}], "mark": {"type": "square", "size": 42, "opacity": 1, "xOffset": -23},
         "encoding": {"x": {"field": "year", "type": "nominal"}, "color": {"field": "grp", "type": "nominal", "scale": {"domain": ["PBO","S150","S200"], "range": ["#c4c5c7","#95b483","#86cdf0"]}, "legend": null}}}
      ]
    },
    {
      "width": 271, "height": 24,
      "title": {"text": "Number of patients in assessment", "frame": "group", "dx": -4, "offset": 1},
      "data": {"name": "n"},
      "transform": [{"filter": "datum.t == 'EF'"}],
      "encoding": {"y": {"field": "grp", "type": "nominal", "scale": {"type": "point", "domain": ["PBO","S150","S200"], "range": [0, 24], "padding": 0.5}, "axis": null}},
      "layer": [
        {"mark": {"type": "text", "fontSize": 7, "color": "#333"},
         "encoding": {"x": {"field": "year", "type": "nominal", "scale": {"domain": ["Year 1","Year 2","Year 3","Year 4","Year 5"], "paddingInner": 0, "paddingOuter": 0}, "axis": null}, "text": {"field": "n"}}},
        {"transform": [{"filter": "datum.year == 'Year 1'"}], "mark": {"type": "square", "size": 42, "opacity": 1, "xOffset": -23},
         "encoding": {"x": {"field": "year", "type": "nominal"}, "color": {"field": "grp", "type": "nominal", "scale": {"domain": ["PBO","S150","S200"], "range": ["#c4c5c7","#95b483","#86cdf0"]}, "legend": null}}}
      ]
    }
  ],
  "config": {
    "font": "Liberation Serif",
    "view": {"stroke": null},
    "axis": {"labelFontSize": 10.5, "titleFontSize": 10, "titleFontWeight": "normal", "labelFontWeight": "normal", "labelColor": "black", "titleColor": "black", "domainColor": "black", "domainWidth": 2, "tickColor": "black", "tickWidth": 1.5, "grid": false},
    "axisX": {"labelAngle": 0, "labelFontSize": 10, "tickBand": "extent", "tickSize": 4, "labelPadding": 1, "titlePadding": 1},
    "axisY": {"tickSize": 5, "labelPadding": 2, "titlePadding": 3},
    "title": {"anchor": "start", "frame": "bounds", "fontSize": 10, "fontWeight": "normal", "lineHeight": 12, "offset": 6, "color": "black"}
  }
}
